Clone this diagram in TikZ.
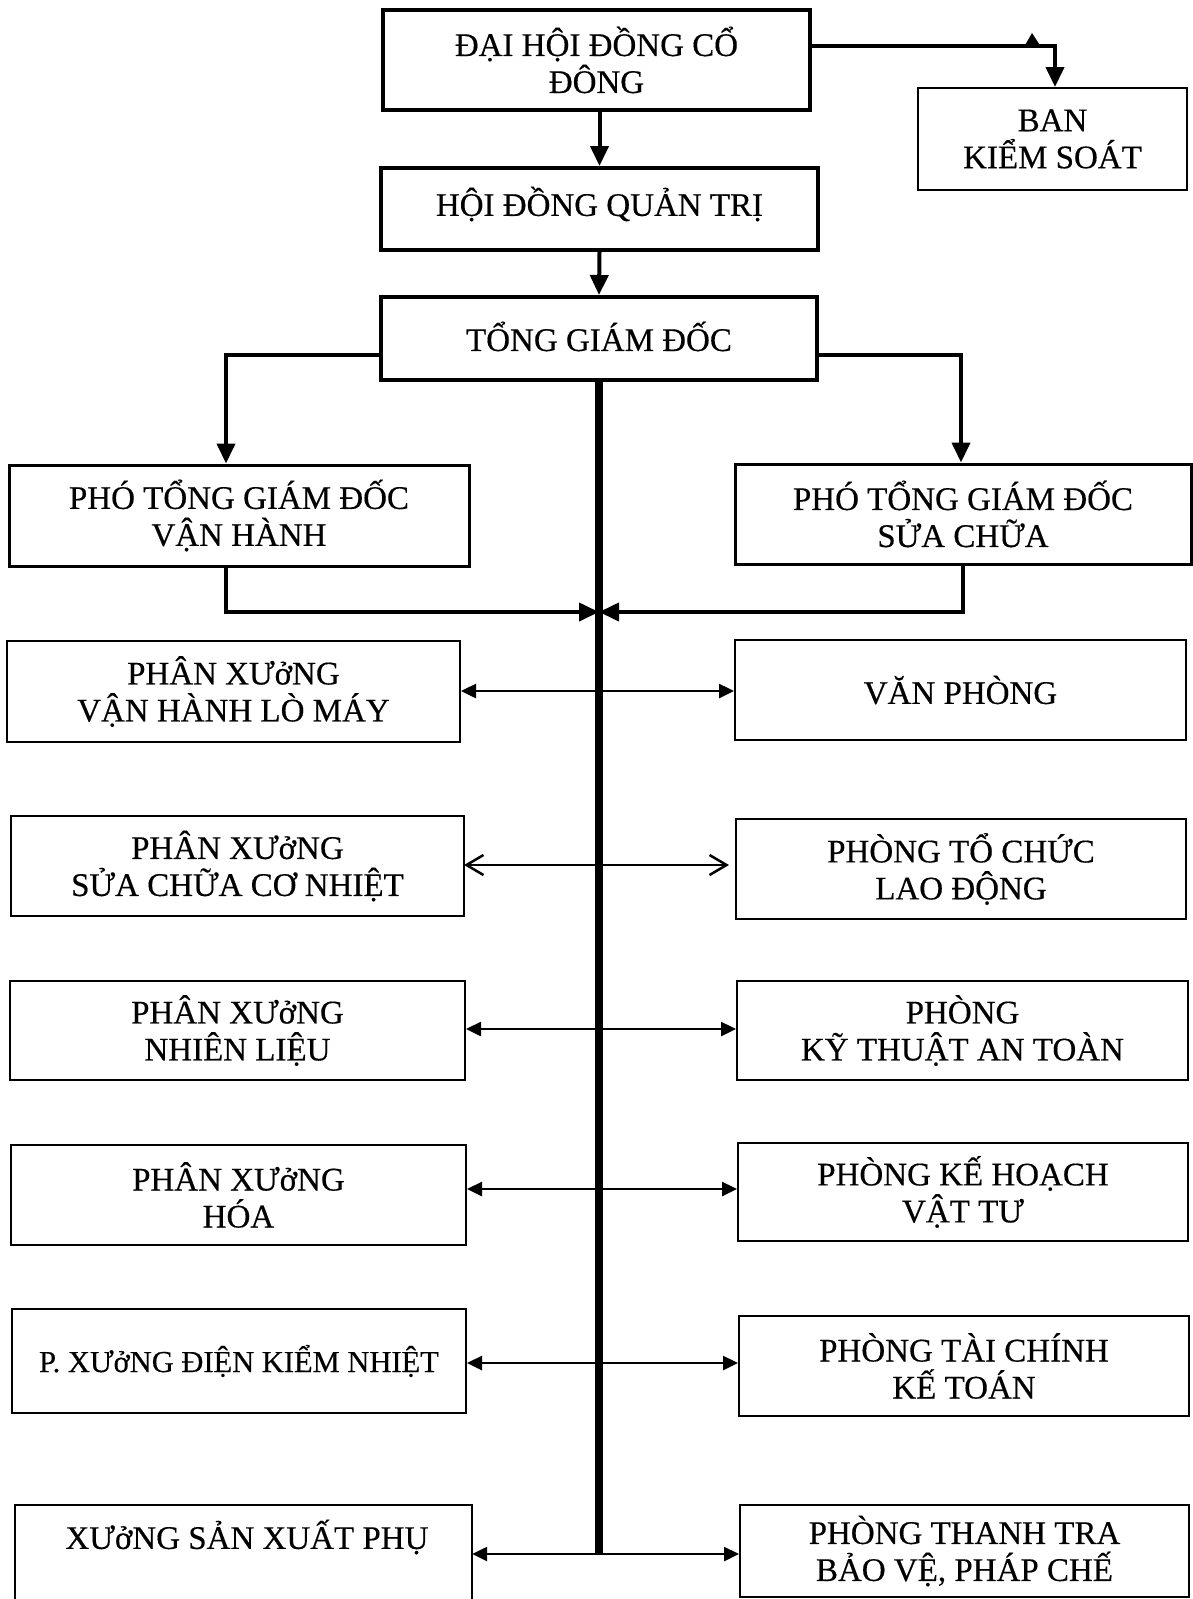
\documentclass[tikz,border=0pt]{standalone}
\usepackage{fontspec}
\setmainfont[FakeBold=0.4]{Liberation Serif}
\usetikzlibrary{arrows.meta}
\begin{document}
\begin{tikzpicture}[x=1pt,y=-1pt,
  box/.style={draw, line width=2pt, rectangle, align=center, inner sep=0pt, font=\fontsize{33}{37}\selectfont},
  bigbox/.style={box, line width=4pt},
  midbox/.style={box, line width=3pt},
  thk/.style={line width=4pt, -{Triangle[length=20pt,width=18pt]}},
  rowar/.style={line width=2.5pt, -{Triangle[length=15pt,width=14pt]}},
  rowopen/.style={line width=2.5pt, -{Straight Barb[length=17pt,width=20pt]}},
  spine/.style={line width=8pt},
]
\useasboundingbox (0,0) rectangle (1193,1599);
\fill[white] (0,0) rectangle (1193,1599);

% top boxes
\node[bigbox, minimum width=427pt, minimum height=100pt] (dhd) at (596.5,60) {ĐẠI HỘI ĐỒNG CỔ\\ĐÔNG};
\node[box, minimum width=269pt, minimum height=102pt] (bks) at (1052.5,139) {BAN\\KIỂM SOÁT};
\node[bigbox, minimum width=437pt, minimum height=82pt] (hdqt) at (599.5,209) {\raisebox{5pt}[\height][\depth]{HỘI ĐỒNG QUẢN TRỊ}};
\node[bigbox, minimum width=436pt, minimum height=83pt] (tgd) at (599,338.5) {\raisebox{2pt}[\height][\depth]{TỔNG GIÁM ĐỐC}};
\node[midbox, minimum width=460pt, minimum height=101pt] (pvh) at (239,515.5) {PHÓ TỔNG GIÁM ĐỐC\\VẬN HÀNH};
\node[midbox, minimum width=456pt, minimum height=100pt] (psc) at (963,514) {PHÓ TỔNG GIÁM ĐỐC\\SỬA CHỮA};

% left column
\node[box, minimum width=453pt, minimum height=101pt] (b1L) at (233.5,691.5) {PHÂN XƯởNG\\VẬN HÀNH LÒ MÁY};
\node[box, minimum width=453pt, minimum height=100pt] (b2L) at (237.5,866) {PHÂN XƯởNG\\SỬA CHỮA CƠ NHIỆT};
\node[box, minimum width=455pt, minimum height=99pt] (b3L) at (237.5,1030.5) {PHÂN XƯởNG\\NHIÊN LIỆU};
\node[box, minimum width=455pt, minimum height=100pt] (b4L) at (238.5,1195) {PHÂN XƯởNG\\HÓA};
\node[box, minimum width=454pt, minimum height=104pt, font=\fontsize{30.5}{37}\selectfont] (b5L) at (239,1361) {P. XƯởNG ĐIỆN KIỂM NHIỆT};
\node[draw=none, minimum width=457pt, minimum height=110pt, inner sep=0pt] (b6L) at (243.5,1560) {};
\draw[line width=2pt] (b6L.south west) |- (b6L.north east) -- (b6L.south east);
\node[font=\fontsize{33}{37}\selectfont, inner sep=0pt] (b6Lt) at (247,1537) {XƯởNG SẢN XUẤT PHỤ};

% right column
\node[box, minimum width=451pt, minimum height=100pt] (b1R) at (960.5,690) {VĂN PHÒNG};
\node[box, minimum width=450pt, minimum height=100pt] (b2R) at (961,869) {PHÒNG TỔ CHỨC\\LAO ĐỘNG};
\node[box, minimum width=451pt, minimum height=99pt] (b3R) at (962.5,1030.5) {PHÒNG\\KỸ THUẬT AN TOÀN};
\node[box, minimum width=450pt, minimum height=98pt] (b4R) at (963,1192) {PHÒNG KẾ HOẠCH\\VẬT TƯ};
\node[box, minimum width=450pt, minimum height=100pt] (b5R) at (964,1366) {PHÒNG TÀI CHÍNH\\KẾ TOÁN};
\node[box, minimum width=449pt, minimum height=92pt] (b6R) at (964.5,1551) {PHÒNG THANH TRA\\BẢO VỆ, PHÁP CHẾ};

% spine coordinates
\coordinate (j) at (599,612);
\coordinate (r1) at (599,691);
\coordinate (r2) at (599,865);
\coordinate (r3) at (599,1029);
\coordinate (r4) at (599,1189);
\coordinate (r5) at (599,1363);
\coordinate (r6) at (599,1554);

% top connectors
\draw[thk] (dhd.south -| hdqt.north) -- (hdqt.north);
\draw[thk] (hdqt.south) -- (tgd.north);
\draw[thk] ([yshift=14pt]dhd.east) -| ([xshift=2.5pt]bks.north);
\fill (1024,47) -- (1041,47) -- (1032,33) -- cycle;
\draw[thk] ([yshift=-16.5pt]tgd.west) -| ([xshift=-13pt]pvh.north);
\draw[thk] ([yshift=-16.5pt]tgd.east) -| ([xshift=-2pt]psc.north);

% spine
\draw[spine] (tgd.south) -- (r6);

% deputies to spine
\draw[thk] ([xshift=-13pt]pvh.south) |- (j);
\draw[thk] (psc.south) |- (j);

% rows
\draw[rowar] (r1) -- (b1L.east |- r1);
\draw[rowar] (r1) -- (b1R.west |- r1);
\draw[rowopen] (r2) -- ([xshift=-1pt]b2L.east |- r2);
\draw[rowopen] (r2) -- ([xshift=-6pt]b2R.west |- r2);
\draw[rowar] (r3) -- (b3L.east |- r3);
\draw[rowar] (r3) -- (b3R.west |- r3);
\draw[rowar] (r4) -- (b4L.east |- r4);
\draw[rowar] (r4) -- (b4R.west |- r4);
\draw[rowar] (r5) -- (b5L.east |- r5);
\draw[rowar] (r5) -- (b5R.west |- r5);
\draw[rowar] (r6) -- (b6L.east |- r6);
\draw[rowar] (r6) -- (b6R.west |- r6);
\end{tikzpicture}
\end{document}
